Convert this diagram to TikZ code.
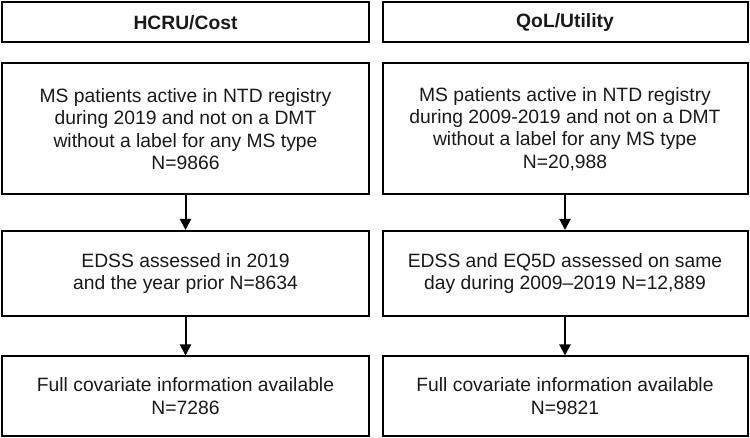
\documentclass[tikz,border=0pt]{standalone}
\usepackage{fontspec}
\setmainfont{Liberation Sans}
\usetikzlibrary{arrows.meta}
\begin{document}
\begin{tikzpicture}[x=1pt,y=-1pt,
  box/.style={draw=black,line width=2pt,rectangle,inner sep=0pt,align=center,
    font=\fontsize{19.3}{22.3}\selectfont,text=black!90},
  hdr/.style={box,font=\fontsize{19.3}{22.3}\selectfont\bfseries},
  conn/.style={line width=2pt,-{Triangle[length=11pt,width=11pt]}}]
\useasboundingbox (0,0) rectangle (750,438);
% left column
\node[hdr,minimum width=367pt,minimum height=40pt] (lh) at (185.5,22.5) {HCRU/Cost};
\node[box,minimum width=367pt,minimum height=131pt] (l1) at (185.5,129) {MS patients active in NTD registry\\during 2019 and not on a DMT\\without a label for any MS type\\N=9866};
\node[box,minimum width=367pt,minimum height=85pt] (l2) at (185.5,273.5) {EDSS assessed in 2019\\and the year prior N=8634};
\node[box,minimum width=367pt,minimum height=79pt] (l3) at (185.5,396) {Full covariate information available\\N=7286};
% right column
\node[hdr,minimum width=365pt,minimum height=40pt] (rh) at (565,22.5) {QoL/Utility};
\node[box,minimum width=365pt,minimum height=131pt] (r1) at (565,129) {MS patients active in NTD registry\\during 2009-2019 and not on a DMT\\without a label for any MS type\\N=20,988};
\node[box,minimum width=365pt,minimum height=85pt] (r2) at (565,273.5) {EDSS and EQ5D assessed on same\\day during 2009–2019 N=12,889};
\node[box,minimum width=365pt,minimum height=79pt] (r3) at (565,396) {Full covariate information available\\N=9821};
% connectors
\draw[conn] (l1.south) -- (l2.north);
\draw[conn] (l2.south) -- (l3.north);
\draw[conn] (r1.south) -- (r2.north);
\draw[conn] (r2.south) -- (r3.north);
\end{tikzpicture}
\end{document}
